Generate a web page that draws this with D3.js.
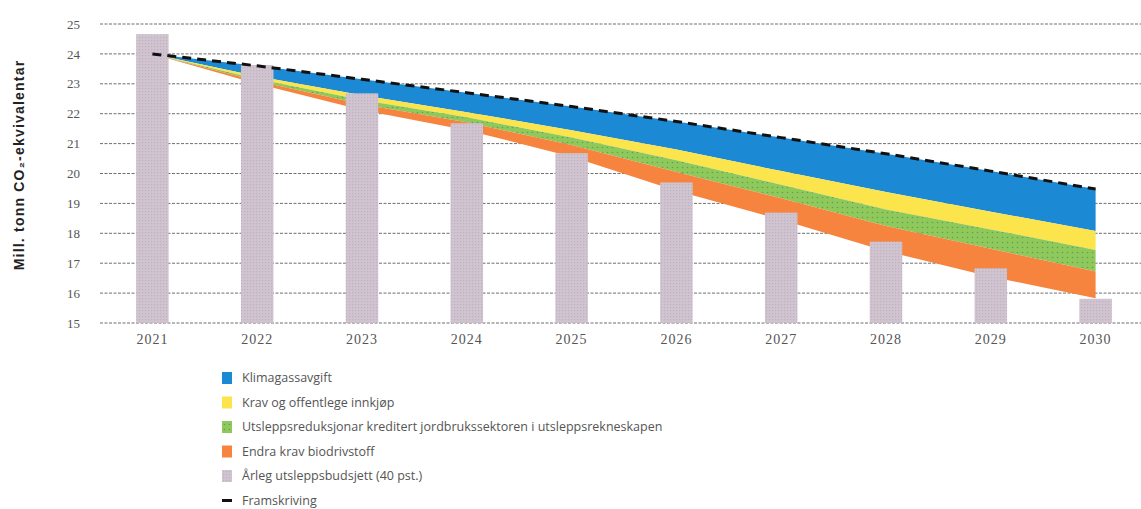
<!DOCTYPE html>
<html>
  <head>
    <meta charset="utf-8">
    <script src="https://d3js.org/d3.v7.min.js"></script>
    <title>Utsleppsbudsjett</title>
    <style>
      body { margin: 0px; background: #fff; }
      .grid line { stroke: #6f6f6f; stroke-dasharray: 3,1.5; stroke-width: 1; }
      .tick text { fill: #555; font-family: 'Liberation Serif', serif; }
      .legend text { fill: #555; font-family: 'Open Sans', sans-serif; font-size: 12.5px; }
      .axis-label { font-family: 'Liberation Sans', sans-serif; font-weight: bold; font-size: 14px; fill: #222; }
    </style>
  </head>
  <body>
    <svg width="1141" height="509"></svg>
    <script>
      const years = ['2021','2022','2023','2024','2025','2026','2027','2028','2029','2030'];
      const framskriving = [24.0, 23.6, 23.15, 22.7, 22.24, 21.74, 21.2, 20.66, 20.08, 19.48];
      const klimagassavgift = [0, 0.35, 0.53, 0.65, 0.79, 0.94, 1.12, 1.28, 1.36, 1.40];
      const kravInnkjop = [0, 0.09, 0.16, 0.17, 0.25, 0.36, 0.46, 0.58, 0.59, 0.64];
      const jordbruk = [0, 0.07, 0.14, 0.17, 0.25, 0.39, 0.45, 0.56, 0.65, 0.72];
      const biodrivstoff = [0, 0.09, 0.20, 0.26, 0.39, 0.63, 0.72, 0.84, 0.93, 0.89];
      const budsjett = [24.66, 23.63, 22.68, 21.68, 20.68, 19.70, 18.69, 17.72, 16.83, 15.81];
      const yTicks = [15, 16, 17, 18, 19, 20, 21, 22, 23, 24, 25];

      const layers = [
        { name: 'Klimagassavgift', values: klimagassavgift, fill: '#1b89d3' },
        { name: 'Krav og offentlege innkjøp', values: kravInnkjop, fill: '#fbe44c' },
        { name: 'Utsleppsreduksjonar kreditert jordbrukssektoren i utsleppsrekneskapen', values: jordbruk, fill: 'url(#greenDots)' },
        { name: 'Endra krav biodrivstoff', values: biodrivstoff, fill: '#f6843e' }
      ];

      const svg = d3.select('svg');
      const defs = svg.append('defs');

      const gp = defs.append('pattern').attr('id', 'greenDots')
          .attr('width', 5).attr('height', 5).attr('patternUnits', 'userSpaceOnUse');
      gp.append('rect').attr('width', 5).attr('height', 5).attr('fill', '#8ec95a');
      gp.append('circle').attr('cx', 2.5).attr('cy', 2.5).attr('r', 0.8).attr('fill', '#5f9e6a');

      const bp = defs.append('pattern').attr('id', 'barDots')
          .attr('width', 3).attr('height', 3).attr('patternUnits', 'userSpaceOnUse');
      bp.append('rect').attr('width', 3).attr('height', 3).attr('fill', '#d1c3d0');
      bp.append('rect').attr('width', 1.2).attr('height', 1.2).attr('x', 1).attr('y', 1).attr('fill', '#b9b4bd');

      const xScale = d3.scaleBand()
        .domain(years)
        .range([100, 1148])
        .paddingInner(0.69)
        .paddingOuter(0.345);
      const cx = y => xScale(y) + xScale.bandwidth() / 2;

      const yScale = d3.scaleLinear().domain([15, 25]).range([323, 24]);

      // gridlines
      svg.append('g').attr('class', 'grid')
        .selectAll('line').data(yTicks).enter().append('line')
          .attr('x1', 100).attr('x2', 1141)
          .attr('y1', d => yScale(d)).attr('y2', d => yScale(d));

      // stacked reductions below the projection
      const rows = years.map((y, i) => {
        let top = framskriving[i];
        const bands = layers.map(l => {
          const b = { y0: top, y1: top - l.values[i] };
          top = b.y1;
          return b;
        });
        return { year: y, bands };
      });

      layers.forEach((l, k) => {
        const area = d3.area()
          .x(d => cx(d.year))
          .y0(d => yScale(d.bands[k].y0))
          .y1(d => yScale(d.bands[k].y1));
        svg.append('path').datum(rows)
          .attr('d', area)
          .attr('fill', l.fill);
      });

      // budget bars
      svg.selectAll('rect.bar').data(years).enter().append('rect')
        .attr('class', 'bar')
        .attr('x', d => xScale(d))
        .attr('width', xScale.bandwidth())
        .attr('y', (d, i) => yScale(budsjett[i]))
        .attr('height', (d, i) => yScale(15) - yScale(budsjett[i]))
        .attr('fill', 'url(#barDots)');

      // projection line
      svg.append('path').datum(years)
        .attr('d', d3.line().x(d => cx(d)).y((d, i) => yScale(framskriving[i])))
        .attr('fill', 'none')
        .attr('stroke', '#111')
        .attr('stroke-width', 3)
        .attr('stroke-dasharray', '9,6');

      // axes
      const yAxis = d3.axisLeft(yScale).tickValues(yTicks).tickSize(0).tickPadding(0);
      svg.append('g').attr('transform', 'translate(80,0)').call(yAxis)
        .call(g => g.select('.domain').remove())
        .selectAll('text').style('font-size', '13px');

      const xAxis = d3.axisBottom(xScale).tickSize(0).tickPadding(0);
      svg.append('g').attr('transform', 'translate(0,334)').call(xAxis)
        .call(g => g.select('.domain').remove())
        .selectAll('text').style('font-size', '14px').style('letter-spacing', '1px');

      svg.append('text')
        .attr('class', 'axis-label')
        .attr('transform', 'translate(24,165) rotate(-90)')
        .attr('text-anchor', 'middle')
        .attr('letter-spacing', '1.2px')
        .text('Mill. tonn CO₂-ekvivalentar');

      // legend
      const legendItems = layers.map(l => ({ name: l.name, fill: l.fill, type: 'box' }))
        .concat([{ name: 'Årleg utsleppsbudsjett (40 pst.)', fill: 'url(#barDots)', type: 'box' },
                 { name: 'Framskriving', fill: '#111', type: 'line' }]);
      const lg = svg.append('g').attr('class', 'legend');
      const item = lg.selectAll('g').data(legendItems).enter().append('g')
        .attr('transform', (d, i) => `translate(222,${378 + i * 24.5})`);
      item.filter(d => d.type === 'box').append('rect')
        .attr('x', 0).attr('y', -6).attr('width', 10).attr('height', 12)
        .attr('fill', d => d.fill);
      item.filter(d => d.type === 'line').append('line')
        .attr('x1', 0).attr('x2', 10).attr('y1', 0).attr('y2', 0)
        .attr('stroke', '#111').attr('stroke-width', 3);
      item.append('text')
        .attr('x', 20).attr('dy', '0.35em')
        .text(d => d.name);
    </script>
  </body>
</html>
